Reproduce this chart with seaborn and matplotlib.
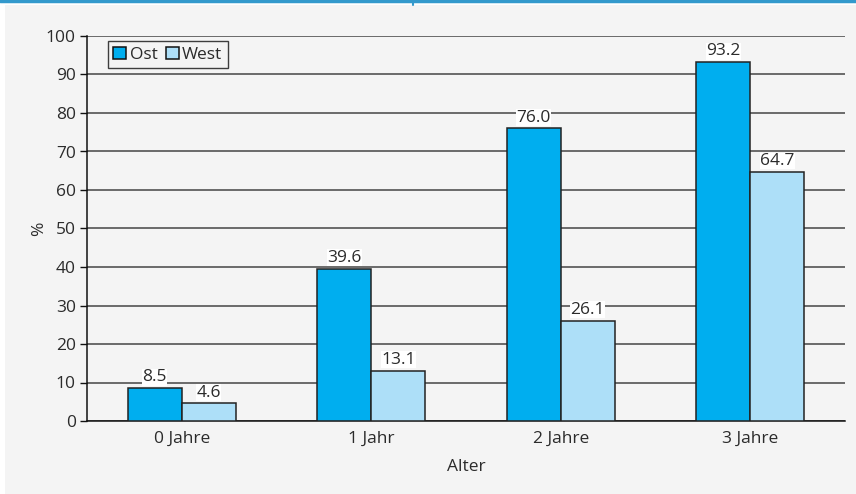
import matplotlib

matplotlib.use("Agg")
import matplotlib.pyplot as plt
import pandas as pd
import seaborn as sns
from matplotlib.lines import Line2D
from matplotlib.patches import Rectangle
from matplotlib.ticker import FixedLocator

ages = ["0 Jahre", "1 Jahr", "2 Jahre", "3 Jahre"]
ost = [8.5, 39.6, 76.0, 93.2]
west = [4.6, 13.1, 26.1, 64.7]
regions = ["Ost", "West"]
colors = ["#00aeef", "#addff8"]

df = pd.DataFrame({
    "Alter": ages * 2,
    "Region": ["Ost"] * len(ages) + ["West"] * len(ages),
    "Wert": ost + west,
})

sns.set_theme(style="white")
plt.rcParams["font.family"] = ["Open Sans", "DejaVu Sans"]
TXT = "#2b2b2b"
BG = "#f4f4f4"
FS = 12.5

fig = plt.figure(figsize=(8.56, 4.94), dpi=100, facecolor="white")
fig.patches.append(Rectangle((5 / 856, 0), 1, 1 - 5 / 494, transform=fig.transFigure,
                             facecolor=BG, edgecolor="none", zorder=-10))
fig.lines.append(Line2D([0, 1], [1 - 1.5 / 494] * 2, transform=fig.transFigure,
                        color="#3399cc", lw=2.5))
fig.lines.append(Line2D([413 / 856] * 2, [1 - 1 / 494, 1 - 5 / 494], transform=fig.transFigure,
                        color="#3399cc", lw=1.5))

ax = fig.add_axes([87 / 856, 1 - 421 / 494, 758 / 856, 385 / 494])
ax.set_facecolor(BG)

sns.barplot(data=df, x="Alter", y="Wert", hue="Region", order=ages, hue_order=regions,
            palette=colors, width=0.57, edgecolor="#222222", linewidth=1.1,
            saturation=1, ax=ax, zorder=3)

for cont in ax.containers:
    labels = ax.bar_label(cont, fmt="%.1f", padding=2, fontsize=FS, color=TXT, zorder=4)
    for t in labels:
        t.set_bbox(dict(facecolor="white", edgecolor="none", pad=0.3))

ax.set_xlim(-0.5, 3.5)
ax.set_ylim(0, 100)
ax.set_yticks(range(0, 101, 10))
ax.yaxis.grid(True, color="#444444", lw=1.1, zorder=0)
ax.set_axisbelow(True)

for s in ["top", "right"]:
    ax.spines[s].set_visible(False)
for s in ["left", "bottom"]:
    ax.spines[s].set_color("#111111")
    ax.spines[s].set_linewidth(1.1)

ax.xaxis.set_minor_locator(FixedLocator([-0.5, 0.5, 1.5, 2.5, 3.5]))
ax.tick_params(axis="x", which="major", length=0, pad=7, labelsize=FS, labelcolor=TXT)
ax.tick_params(axis="x", which="minor", length=4, width=1, color="#111111", direction="out")
ax.tick_params(axis="y", length=5, width=1, color="#111111", direction="out", pad=3,
               labelsize=FS, labelcolor=TXT, left=True)

ax.set_xlabel("Alter", fontsize=FS, color=TXT, labelpad=9)
ax.set_ylabel("%", fontsize=FS, color=TXT, labelpad=-1)

leg = ax.legend(loc="upper left", bbox_to_anchor=(0.028, 0.986), ncol=2, fontsize=FS,
                frameon=True, fancybox=False, handlelength=0.75, handleheight=0.75,
                handletextpad=0.2, columnspacing=0.45, borderpad=0.3, borderaxespad=0)
leg.get_frame().set_edgecolor("#111111")
leg.get_frame().set_facecolor(BG)
leg.get_frame().set_linewidth(1.0)
for h in leg.legend_handles:
    h.set_edgecolor("#111111")
for t in leg.get_texts():
    t.set_color(TXT)

fig.savefig("out.png", dpi=100, facecolor=fig.get_facecolor())
